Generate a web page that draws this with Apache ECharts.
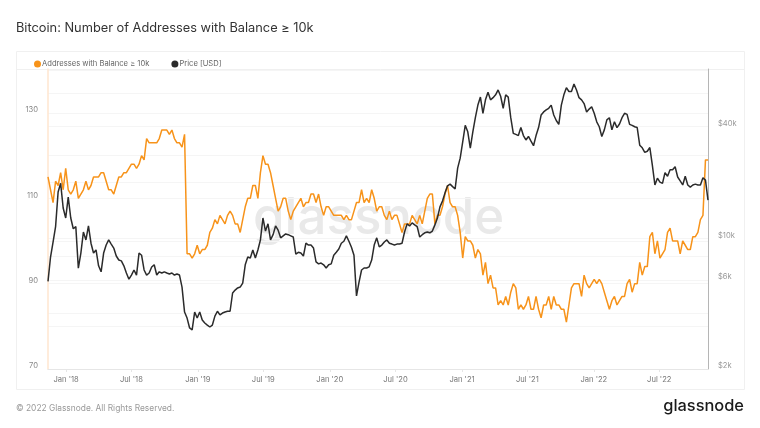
<!DOCTYPE html>
<html>
<head>
<meta charset="utf-8">
<style>
html, body { margin: 0; padding: 0; background: #fff; }
#main { width: 760px; height: 428px; }
</style>
<script src="https://cdn.jsdelivr.net/npm/echarts@6/dist/echarts.min.js"></script>
</head>
<body>
<div id="main"></div>
<script>
// weekly readings, first one on startDate
var startDate = '2017-11-12';
var stepDays = 7;

var addresses = [
    115, 112, 109, 114, 113, 116, 112, 117, 112, 111,
    112, 114, 110, 111, 112, 114, 112, 113, 115, 115,
    115, 116, 116, 114, 112, 112, 111, 113, 115, 115,
    116, 116, 117, 118, 118, 117, 118, 120, 119, 124,
    123, 123, 123, 123, 124, 126, 126, 126, 125, 126,
    124, 123, 123, 122, 125, 97, 97, 96, 97, 99,
    97, 98, 98, 99, 102, 103, 105, 104, 106, 105,
    104, 106, 107, 106, 104, 104, 102, 105, 108, 110,
    110, 113, 113, 110, 116, 120, 118, 118, 116, 113,
    110, 107, 108, 110, 110, 107, 105, 107, 108, 109,
    110, 108, 109, 109, 111, 111, 109, 111, 108, 106,
    108, 108, 107, 106, 106, 106, 106, 105, 106, 105,
    105, 107, 109, 109, 112, 109, 110, 109, 112, 110,
    107, 108, 108, 106, 105, 107, 105, 106, 106, 104,
    102, 104, 104, 104, 106, 105, 104, 106, 104, 107,
    110, 111, 111, 104, 106, 106, 108, 111, 113, 109,
    108, 108, 106, 102, 96, 101, 100, 100, 99, 96,
    98, 97, 92, 95, 90, 92, 89, 89, 85, 86,
    85, 87, 85, 88, 90, 89, 84, 85, 84, 85,
    87, 84, 84, 87, 84, 82, 85, 85, 87, 84,
    87, 85, 85, 84, 84, 81, 85, 89, 90, 90,
    90, 87, 92, 90, 89, 90, 91, 90, 91, 90,
    88, 86, 84, 86, 87, 85, 86, 87, 87, 90,
    91, 88, 90, 90, 95, 92, 94, 94, 101, 102,
    97, 100, 96, 97, 98, 102, 103, 100, 100, 100,
    97, 100, 99, 98, 98, 101, 101, 102, 105, 106,
    119, 119
];

var price = [
    5900, 7970, 9590, 11600, 17800, 19800, 14600, 12900, 16700, 12900,
    11300, 11600, 6950, 8370, 10850, 9840, 11700, 9450, 8370, 8700,
    7150, 6640, 8370, 9240, 9840, 9350, 8900, 8070, 7680, 7600,
    7150, 6540, 6060, 6380, 6790, 6380, 8370, 8150, 6790, 6380,
    6540, 7050, 7240, 6380, 6640, 6540, 6640, 6540, 6460, 6540,
    6380, 6460, 6380, 5500, 4040, 3750, 3320, 3240, 4040, 3750,
    4040, 3660, 3530, 3440, 3360, 3440, 3840, 4080, 3900, 3990,
    4040, 4080, 4080, 5110, 5300, 5440, 5500, 5780, 7240, 7970,
    7870, 8690, 7870, 8690, 9840, 12900, 10980, 12000, 9840, 10500,
    11700, 11100, 10100, 10350, 10600, 10500, 10350, 10200, 8270, 8450,
    8370, 8070, 9450, 9240, 9240, 8900, 7500, 7320, 7400, 7240,
    6960, 7240, 7320, 8150, 8450, 8800, 9450, 9680, 10350, 9680,
    9000, 8150, 4930, 5850, 6790, 6960, 6960, 7060, 7680, 9240,
    10100, 9030, 9240, 9590, 9840, 9450, 9350, 9240, 9350, 9350,
    9450, 10850, 12000, 11700, 12150, 11850, 11600, 10200, 10500, 10750,
    10850, 10750, 10980, 11850, 12900, 14800, 15900, 17600, 19200, 19600,
    19000, 18500, 23900, 27000, 33000, 40500, 37400, 30600, 37400, 44500,
    52000, 57400, 47000, 55500, 61000, 55500, 57000, 59000, 62700, 58000,
    50000, 59000, 57400, 44500, 36700, 36200, 35700, 39400, 35700, 33800,
    35300, 33300, 31500, 35700, 39400, 46000, 47800, 49000, 50000, 52000,
    46000, 43000, 41000, 52000, 59000, 64500, 61500, 61500, 67500, 62700,
    57000, 55500, 53000, 47800, 49500, 51000, 47000, 42300, 39800, 35300,
    38300, 43300, 44500, 38300, 42300, 39400, 41200, 44500, 47000, 46400,
    41000, 40500, 39800, 39400, 31700, 30700, 29000, 29400, 30800, 24700,
    19400, 21100, 20100, 19800, 22600, 21600, 23400, 23400, 24300, 21400,
    20400, 19400, 21600, 19400, 18900, 19400, 19600, 19400, 19400, 21200,
    20600, 16100
];

var dateTicks = ['2018-01-01', '2018-07-01', '2019-01-01', '2019-07-01', '2020-01-01',
    '2020-07-01', '2021-01-01', '2021-07-01', '2022-01-01', '2022-07-01'];
var dateLabels = ["Jan '18", "Jul '18", "Jan '19", "Jul '19", "Jan '20",
    "Jul '20", "Jan '21", "Jul '21", "Jan '22", "Jul '22"];
var leftGrid = [70, 80, 90, 100, 110, 120, 130, 140];
var leftLabels = [70, 90, 110, 130];
var rightGrid = [2000, 4000, 6000, 8000, 10000, 20000, 40000, 60000];
var rightLabels = [2000, 6000, 10000, 40000];

var FONT = 'Inter';

function toTime(d) {
    return new Date(d + 'T00:00:00Z').getTime();
}

function pairs(values) {
    var t0 = toTime(startDate);
    return values.map(function (v, i) {
        return [t0 + i * stepDays * 86400000, v];
    });
}

var tickTimes = dateTicks.map(toTime);

var myChart = echarts.init(document.getElementById('main'), null, {renderer: 'canvas'});

myChart.setOption({
    animation: false,
    backgroundColor: '#fff',
    textStyle: {fontFamily: FONT},
    grid: {left: 48, right: 52, top: 69, bottom: 59, containLabel: false},
    legend: {
        left: 29,
        top: 55,
        icon: 'circle',
        itemWidth: 7,
        itemHeight: 7,
        itemGap: 22,
        textStyle: {fontFamily: FONT, fontSize: 7.6, color: '#666', padding: [0, 0, 0, -4]},
        data: ['Addresses with Balance ≥ 10k', 'Price [USD]']
    },
    xAxis: {
        type: 'value',
        min: toTime('2017-11-12'),
        max: toTime('2022-11-13'),
        splitLine: {show: false},
        axisLine: {lineStyle: {color: '#e6e6e6', width: 1}},
        axisTick: {show: true, length: 3, lineStyle: {color: '#e6e6e6'}, customValues: tickTimes},
        axisLabel: {
            customValues: tickTimes,
            hideOverlap: false,
            margin: 7,
            fontFamily: FONT,
            fontSize: 7.6,
            color: '#777',
            formatter: function (value) {
                return dateLabels[tickTimes.indexOf(value)] || '';
            }
        }
    },
    yAxis: [{
        type: 'value',
        min: 70,
        max: 140.3,
        position: 'left',
        axisLine: {show: true, lineStyle: {color: '#ffe6cf', width: 1.5}},
        axisTick: {show: false, customValues: leftGrid},
        splitLine: {show: true, lineStyle: {color: '#f5f5f5', width: 1}},
        axisLabel: {
            customValues: leftLabels,
            margin: 10,
            fontFamily: FONT,
            fontSize: 7.6,
            color: '#888',
            verticalAlign: 'bottom',
            lineHeight: 6
        }
    }, {
        type: 'log',
        logBase: 10,
        min: 2000,
        max: 81200,
        position: 'right',
        axisLine: {show: true, lineStyle: {color: '#b5b5b5', width: 1}},
        axisTick: {show: false, customValues: rightGrid},
        splitLine: {show: true, lineStyle: {color: '#f5f5f5', width: 1}},
        axisLabel: {
            customValues: rightLabels,
            margin: 10,
            fontFamily: FONT,
            fontSize: 7.6,
            color: '#999',
            verticalAlign: 'bottom',
            lineHeight: 6,
            formatter: function (value) {
                return '$' + Math.round(value / 1000) + 'k';
            }
        }
    }],
    series: [{
        name: 'Addresses with Balance ≥ 10k',
        type: 'line',
        yAxisIndex: 0,
        data: pairs(addresses),
        showSymbol: false,
        symbol: 'circle',
        lineStyle: {color: '#f7931a', width: 1.5},
        itemStyle: {color: '#f7931a'},
        z: 3
    }, {
        name: 'Price [USD]',
        type: 'line',
        yAxisIndex: 1,
        data: pairs(price),
        showSymbol: false,
        symbol: 'circle',
        lineStyle: {color: '#2b2b2b', width: 1.5},
        itemStyle: {color: '#2b2b2b'},
        z: 4
    }],
    graphic: [{
        type: 'rect',
        z: 0,
        silent: true,
        shape: {x: 16.5, y: 51.5, width: 728, height: 338},
        style: {fill: 'none', stroke: '#f0f0f0', lineWidth: 1}
    }, {
        type: 'line',
        z: 0,
        silent: true,
        shape: {x1: 17, y1: 69.5, x2: 744, y2: 69.5},
        style: {stroke: '#f0f0f0', lineWidth: 1}
    }, {
        type: 'text',
        z: 0,
        silent: true,
        left: 253,
        top: 193,
        style: {text: 'glassnode', fontFamily: FONT, fontSize: 51, fontWeight: 500, fill: '#e9e9e9'}
    }, {
        type: 'text',
        left: 16,
        top: 22,
        style: {text: 'Bitcoin: Number of Addresses with Balance ≥ 10k', fontFamily: FONT, fontSize: 12.8, fontWeight: 400, fill: '#333'}
    }, {
        type: 'text',
        left: 16,
        top: 404,
        style: {text: '© 2022 Glassnode. All Rights Reserved.', fontFamily: FONT, fontSize: 8.4, fill: '#999'}
    }, {
        type: 'text',
        right: 16,
        top: 398,
        style: {text: 'glassnode', fontFamily: FONT, fontSize: 16.4, fontWeight: 500, fill: '#1a1a1a'}
    }]
});
</script>
</body>
</html>
